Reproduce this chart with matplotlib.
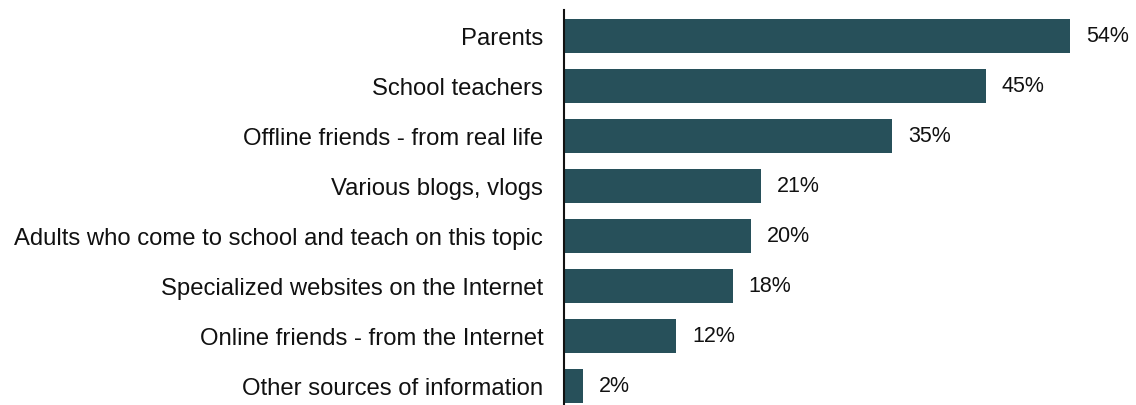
import matplotlib.pyplot as plt

plt.rcParams['font.family'] = ['Liberation Sans', 'DejaVu Sans']

# sources of information, top to bottom
categories = [
    "Parents",
    "School teachers",
    "Offline friends - from real life",
    "Various blogs, vlogs",
    "Adults who come to school and teach on this topic",
    "Specialized websites on the Internet",
    "Online friends - from the Internet",
    "Other sources of information",
]
shares = [54, 45, 35, 21, 20, 18, 12, 2]

BAR_COLOR = "#27505A"

fig = plt.figure(figsize=(11.36, 4.05), dpi=100)
ax = fig.add_axes([0.4965, 0.0, 0.5035, 0.975])

y = list(range(len(categories)))
ax.barh(y, shares, height=0.68, color=BAR_COLOR)

for yi, v in zip(y, shares):
    ax.text(v + 1.7, yi, f"{v}%", va="center", ha="left", fontsize=15.5, color="#111111")

ax.set_yticks(y)
ax.set_yticklabels(categories, fontsize=17.2, color="#111111")
ax.tick_params(axis="y", length=0, pad=15)
ax.set_xticks([])
ax.set_xlim(0, 61.05)
ax.set_ylim(7.38, -0.52)

for side in ("top", "right", "bottom"):
    ax.spines[side].set_visible(False)
ax.spines["left"].set_linewidth(1.5)
ax.spines["left"].set_color("#111111")

fig.savefig("out.png", dpi=100)
